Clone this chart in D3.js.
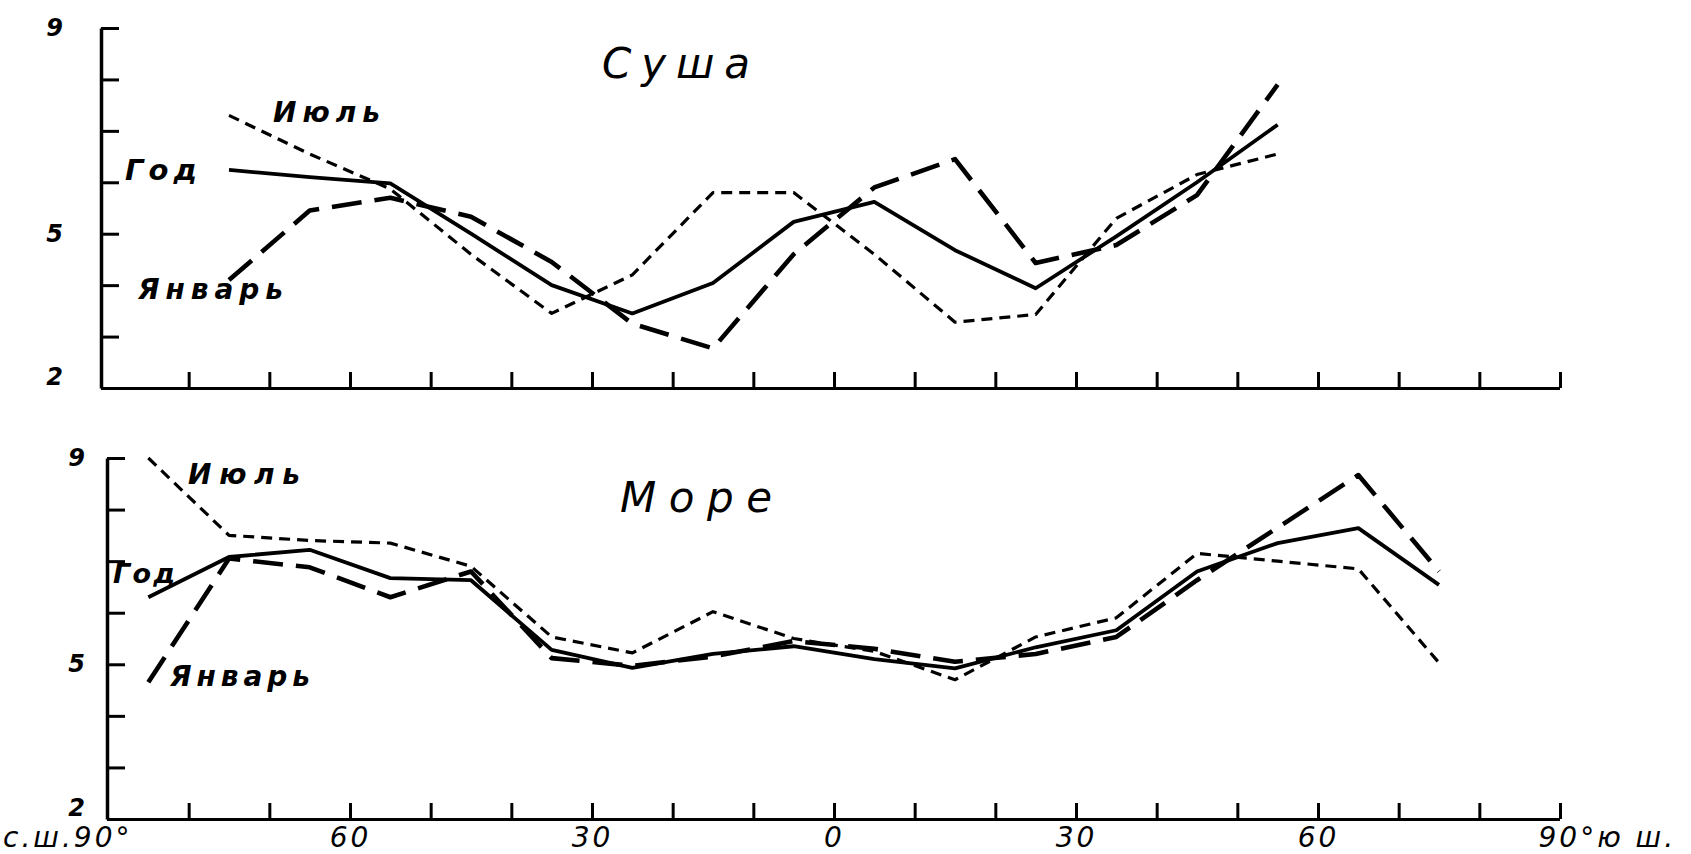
<!DOCTYPE html>
<html>
<head>
<meta charset="utf-8">
<script src="https://cdn.jsdelivr.net/npm/d3@7"></script>
<style>
  body { margin: 0; background: #fff; }
  text { font-family: "DejaVu Sans", sans-serif; font-style: italic; fill: #000; }
</style>
</head>
<body>
<div id="chart"></div>
<script>
// latitude belts (north positive, south negative)
var latLand = [75, 65, 55, 45, 35, 25, 15, 5, -5, -15, -25, -35, -45, -55];
var latSea = [85, 75, 65, 55, 45, 35, 25, 15, 5, -5, -15, -25, -35, -45, -55, -65, -75];

// Суша (land)
var landYear = [6.24, 6.1, 5.98, 5.0, 4.0, 3.45, 4.04, 5.23, 5.62, 4.68, 3.94, 4.95, 6.0, 7.12];
var landJuly = [7.3, 6.55, 5.87, 4.6, 3.45, 4.2, 5.8, 5.8, 4.6, 3.28, 3.43, 5.3, 6.15, 6.55];
var landJan = [4.1, 5.45, 5.7, 5.33, 4.45, 3.25, 2.77, 4.6, 5.9, 6.45, 4.43, 4.78, 5.75, 7.9];

// Море (sea)
var seaYear = [6.3, 7.08, 7.22, 6.67, 6.63, 5.28, 4.93, 5.2, 5.35, 5.1, 4.92, 5.33, 5.66, 6.8, 7.35, 7.64, 6.54];
var seaJuly = [9.0, 7.5, 7.4, 7.35, 6.9, 5.53, 5.22, 6.02, 5.5, 5.25, 4.7, 5.53, 5.9, 7.15, 7.0, 6.85, 5.03];
var seaJan = [4.65, 7.05, 6.88, 6.3, 6.8, 5.12, 4.97, 5.15, 5.45, 5.3, 5.05, 5.2, 5.53, 6.63, 7.65, 8.67, 6.8];

var yTicks = [2, 3, 4, 5, 6, 7, 8, 9];
var yLabels = [9, 5, 2];
var xTicks = d3.range(90, -91, -10);
var xLabels = {90: "с.ш.90°", 60: "60", 30: "30", 0: "0", "-30": "30", "-60": "60", "-90": "90°ю ш."};

var width = 1691, height = 854;

var svg = d3.select("#chart")
    .append("svg")
    .attr("width", width)
    .attr("height", height);

svg.append("rect").attr("width", width).attr("height", height).attr("fill", "#fff");

var x = d3.scaleLinear().domain([90, -90]).range([108, 1560]);
var yLand = d3.scaleLinear().domain([2, 9]).range([388, 28]);
var ySea = d3.scaleLinear().domain([2, 9]).range([819, 458]);

var styles = {
  year: {dash: null, w: 3.8},
  july: {dash: "11,7", w: 3.2},
  jan: {dash: "30,13", w: 4.6}
};

function panel(y, lats, series, showX, axisX, labPad) {
  var g = svg.append("g");

  var xAxis = d3.axisBottom(x)
      .tickValues(xTicks)
      .tickSizeInner(-16)
      .tickSizeOuter(0)
      .tickPadding(8)
      .tickFormat(d => showX ? (xLabels[d] || "") : "");

  var gx = g.append("g")
      .attr("transform", `translate(0,${y.range()[0]})`)
      .call(xAxis);
  gx.select(".domain").attr("d", `M${axisX},0.5H${x(-90)}`).attr("stroke-width", 3);
  gx.selectAll(".tick line").attr("stroke-width", 3);
  // the 90° tick sits on the vertical axis
  gx.selectAll(".tick line").filter(d => d === 90).remove();
  gx.selectAll(".tick text").style("font-size", "28px").attr("letter-spacing", 3);
  gx.selectAll(".tick text").filter(d => d === 90).attr("text-anchor", "end").attr("x", 24);
  gx.selectAll(".tick text").filter(d => d === -90).attr("text-anchor", "start").attr("x", -22);

  var yAxis = d3.axisLeft(y)
      .tickValues(yTicks)
      .tickSizeInner(-18)
      .tickSizeOuter(0)
      .tickPadding(labPad)
      .tickFormat(d => yLabels.includes(d) ? d : "");

  var gy = g.append("g")
      .attr("transform", `translate(${axisX},0)`)
      .call(yAxis);
  gy.select(".domain").attr("stroke-width", 3.5);
  gy.selectAll(".tick line").attr("stroke-width", 3);
  gy.selectAll(".tick text").style("font-size", "24px").style("font-weight", "bold");
  gy.selectAll(".tick text").filter(d => d === 2).attr("y", -11);

  var line = d3.line()
      .x((d, i) => x(lats[i]))
      .y(d => y(d));

  series.forEach(function(s) {
    g.append("path")
      .datum(s.values)
      .attr("fill", "none")
      .attr("stroke", "#000")
      .attr("stroke-width", styles[s.key].w)
      .attr("stroke-dasharray", styles[s.key].dash)
      .attr("stroke-linejoin", "round")
      .attr("d", line);
  });
  return g;
}

panel(yLand, latLand, [
  {key: "year", values: landYear},
  {key: "july", values: landJuly},
  {key: "jan", values: landJan}
], false, 101, 38);

panel(ySea, latSea, [
  {key: "year", values: seaYear},
  {key: "july", values: seaJuly},
  {key: "jan", values: seaJan}
], true, 107, 22);

// titles and line names
var notes = [
  {t: "Суша", x: 602, y: 78, len: 148, size: 42, w: "normal"},
  {t: "Июль", x: 273, y: 122, len: 107, size: 28, w: "bold"},
  {t: "Год", x: 125, y: 180, len: 72, size: 29, w: "bold"},
  {t: "Январь", x: 138, y: 299, len: 145, size: 28, w: "bold"},
  {t: "Море", x: 620, y: 512, len: 152, size: 42, w: "normal"},
  {t: "Июль", x: 188, y: 484, len: 112, size: 28, w: "bold"},
  {t: "Год", x: 113, y: 583, len: 62, size: 27, w: "bold"},
  {t: "Январь", x: 170, y: 686, len: 140, size: 28, w: "bold"}
];

svg.append("g").selectAll("text")
  .data(notes)
  .join("text")
    .attr("x", d => d.x)
    .attr("y", d => d.y)
    .attr("textLength", d => d.len)
    .attr("lengthAdjust", "spacing")
    .style("font-size", d => d.size + "px")
    .style("font-weight", d => d.w)
    .text(d => d.t);
</script>
</body>
</html>
